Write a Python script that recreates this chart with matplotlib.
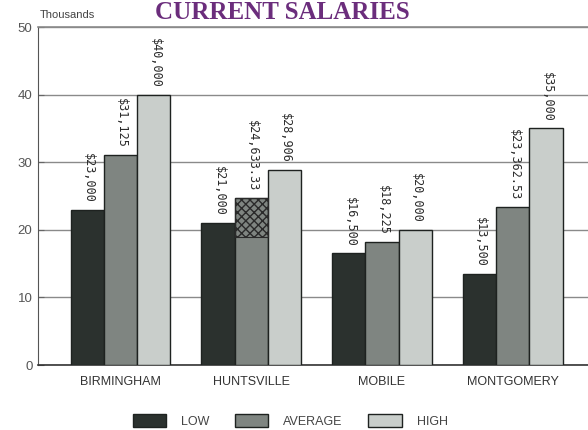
import matplotlib
matplotlib.use("Agg")
import matplotlib.pyplot as plt
import numpy as np
from matplotlib.patches import Patch

cities = ["BIRMINGHAM", "HUNTSVILLE", "MOBILE", "MONTGOMERY"]
low = [23.0, 21.0, 16.5, 13.5]
average = [31.125, 24.63333, 18.225, 23.36253]
high = [40.0, 28.906, 20.0, 35.0]
low_labels = ["$23,000", "$21,000", "$16,500", "$13,500"]
avg_labels = ["$31,125", "$24,633.33", "$18,225", "$23,362.53"]
high_labels = ["$40,000", "$28,906", "$20,000", "$35,000"]
y_ticks = [0, 10, 20, 30, 40, 50]

c_low = "#2b312e"
c_avg = "#7f8581"
c_high = "#c9cecb"
edge = "#1e2220"
grid_c = "#8a8a8a"

fig = plt.figure(figsize=(5.88, 4.30), dpi=100)
ax = fig.add_axes([38 / 588, 1 - 365 / 430, 1.0 - 38 / 588 + 0.01, 338 / 430])

x = np.arange(len(cities))
w = 0.254
series = [(low, low_labels, c_low, -w), (average, avg_labels, c_avg, 0.0),
          (high, high_labels, c_high, w)]

for vals, labs, col, off in series:
    ax.bar(x + off, vals, width=w, color=col, edgecolor=edge, linewidth=1.0, zorder=3)
    for xi, v, t in zip(x + off, vals, labs):
        ax.text(xi + 0.01, v + 1.0, t, rotation=-90, ha="center", va="bottom",
                fontsize=8.5, family="DejaVu Sans Mono", color="#2a2a2a", zorder=4)

# scribbled patch on the Huntsville average bar
ax.bar(x[1], average[1] - 19.0, bottom=19.0, width=w, color="none",
       edgecolor="#2a2a2a", hatch="xxxx", linewidth=0.8, zorder=3.5)

ax.set_xlim(-0.63, 3.62)
ax.set_ylim(0, 50)
ax.set_yticks(y_ticks)
ax.set_yticklabels([str(t) for t in y_ticks], fontsize=9.5, color="#555555",
                   family="Liberation Sans")
ax.set_xticks(x)
ax.set_xticklabels(cities, fontsize=9, color="#333333", family="Liberation Sans")
ax.tick_params(axis="x", length=0, pad=8)
ax.tick_params(axis="y", length=4, color="#666666", pad=4, direction="in")

ax.yaxis.grid(True, color=grid_c, linewidth=1.0, zorder=0)
ax.set_axisbelow(True)
ax.spines["right"].set_visible(False)
ax.spines["top"].set_color(grid_c)
ax.spines["top"].set_linewidth(1.2)
ax.spines["left"].set_color("#555555")
ax.spines["bottom"].set_color("#333333")
ax.spines["bottom"].set_linewidth(1.2)

fig.text(40 / 588, 1 - 15 / 430, "Thousands", fontsize=8, color="#444444",
         family="Liberation Sans", va="center", ha="left")
fig.text(282 / 588, 1 - 1 / 430, "CURRENT SALARIES", fontsize=18, fontweight="bold",
         color="#6b2d7c", family="Liberation Serif", va="top", ha="center")

handles = [Patch(facecolor=c_low, edgecolor=edge, label="LOW"),
           Patch(facecolor=c_avg, edgecolor=edge, label="AVERAGE"),
           Patch(facecolor=c_high, edgecolor=edge, label="HIGH")]
fig.legend(handles=handles, loc="center", bbox_to_anchor=(290 / 588, 1 - 421 / 430),
           ncol=3, frameon=False, handlelength=2.7, handleheight=1.2,
           columnspacing=2.0, handletextpad=1.2,
           prop={"family": "Liberation Sans", "size": 9})
for t in fig.legends[0].get_texts():
    t.set_color("#444444")

fig.savefig("out.png", dpi=100)
